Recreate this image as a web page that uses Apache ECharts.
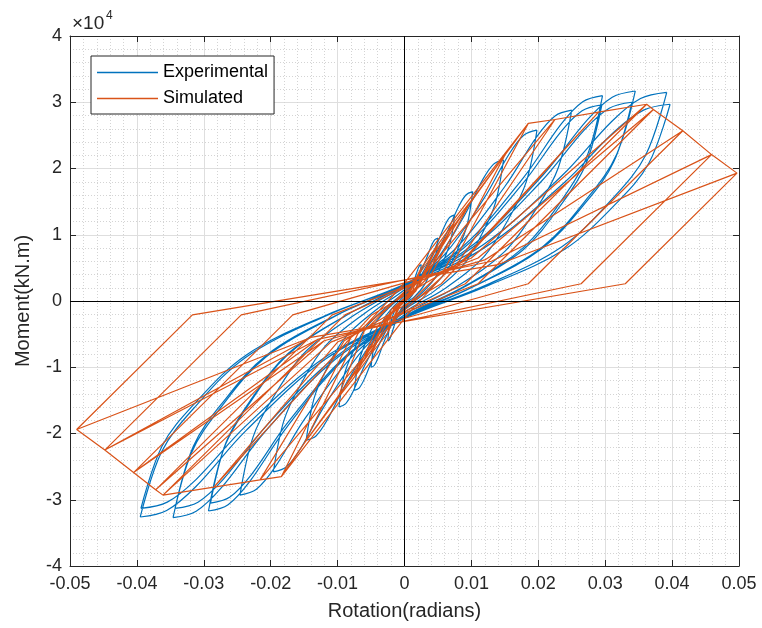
<!DOCTYPE html>
<html><head><meta charset="utf-8">
<script src="https://cdn.jsdelivr.net/npm/echarts@6/dist/echarts.min.js"></script>
<style>html,body{margin:0;padding:0;background:#fff}#c{width:762px;height:628px}</style>
</head><body><div id="c"></div>
<script>
// ---- Experimental loops: [rotation (rad), moment (kN.m)] ----
// each loop: lower branch to positive tip (5 pts), upper branch back through the pinch to negative tip (10 pts), lower branch back to pinch (5 pts)
const expStart = [[0,0]];
const expLoop1 = [[0.00075,385],[0.0015,1430],[0.002,2750],[0.0023,3850],[0.0025,5500],[0.00225,5335],[0.00198,4730],[0.0015,3300],[0.00075,1485],[0,440],[-0.00075,-420],[-0.0015,-1560],[-0.002,-3000],[-0.0023,-4200],[-0.0025,-6000],[-0.00225,-5820],[-0.00198,-5160],[-0.0015,-3600],[-0.00075,-1620],[0,-480]];
const expLoop2 = [[0.0015,665],[0.003,2470],[0.004,4750],[0.0046,6650],[0.005,9500],[0.0045,9215],[0.00395,8170],[0.003,5700],[0.0015,2565],[0,760],[-0.0015,-700],[-0.003,-2600],[-0.004,-5000],[-0.0046,-7000],[-0.005,-10000],[-0.0045,-9700],[-0.00395,-8600],[-0.003,-6000],[-0.0015,-2700],[0,-800]];
const expLoop3 = [[0.00225,910],[0.0045,3380],[0.006,6500],[0.0069,9100],[0.0075,13000],[0.00675,12610],[0.00593,11180],[0.0045,7800],[0.00225,3510],[0,1040],[-0.00225,-945],[-0.0045,-3510],[-0.006,-6750],[-0.0069,-9450],[-0.0075,-13500],[-0.00675,-13100],[-0.00593,-11610],[-0.0045,-8100],[-0.00225,-3645],[0,-1080]];
const expLoop4 = [[0.00306,1155],[0.00612,4290],[0.00816,8250],[0.00938,11550],[0.0102,16500],[0.00918,16005],[0.00806,14190],[0.00612,9900],[0.00306,4455],[0,1320],[-0.00294,-1120],[-0.00588,-4160],[-0.00784,-8000],[-0.00902,-11200],[-0.0098,-16000],[-0.00882,-15520],[-0.00774,-13760],[-0.00588,-9600],[-0.00294,-4320],[0,-1280]];
const expLoop5 = [[0.00444,1491],[0.00888,5538],[0.01184,10650],[0.01362,14910],[0.0148,21300],[0.01332,20661],[0.01169,18318],[0.00888,12780],[0.00444,5751],[0,1704],[-0.00441,-1470],[-0.00882,-5460],[-0.01176,-10500],[-0.01352,-14700],[-0.0147,-21000],[-0.01323,-20370],[-0.01161,-18060],[-0.00882,-12600],[-0.00441,-5670],[0,-1680]];
const expLoop6 = [[0.00594,1806],[0.01188,6708],[0.01584,12900],[0.01822,18060],[0.0198,25800],[0.01782,25026],[0.01564,22188],[0.01188,15480],[0.00594,6966],[0,2064],[-0.00588,-1806],[-0.01176,-6708],[-0.01568,-12900],[-0.01803,-18060],[-0.0196,-25800],[-0.01764,-25026],[-0.01548,-22188],[-0.01176,-15480],[-0.00588,-6966],[0,-2064]];
const expLoop7 = [[0.0075,2016],[0.015,7488],[0.02,14400],[0.023,20160],[0.025,28800],[0.0225,27936],[0.01975,24768],[0.015,17280],[0.0075,7776],[0,2304],[-0.00738,-2051],[-0.01476,-7618],[-0.01968,-14650],[-0.02263,-20510],[-0.0246,-29300],[-0.02214,-28421],[-0.01943,-25198],[-0.01476,-17580],[-0.00738,-7911],[0,-2344]];
const expLoop8 = [[0.00888,2170],[0.01776,8060],[0.02368,15500],[0.02723,21700],[0.0296,31000],[0.02664,30070],[0.02338,26660],[0.01776,18600],[0.00888,8370],[0,2480],[-0.00879,-2219],[-0.01758,-8242],[-0.02344,-15850],[-0.02696,-22190],[-0.0293,-31700],[-0.02637,-30749],[-0.02315,-27262],[-0.01758,-19020],[-0.00879,-8559],[0,-2536]];
const expLoop9 = [[0.00885,2072],[0.0177,7696],[0.0236,14800],[0.02714,20720],[0.0295,29600],[0.02655,28712],[0.02331,25456],[0.0177,17760],[0.00885,7992],[0,2368],[-0.0087,-2135],[-0.0174,-7930],[-0.0232,-15250],[-0.02668,-21350],[-0.029,-30500],[-0.0261,-29585],[-0.02291,-26230],[-0.0174,-18300],[-0.0087,-8235],[0,-2440]];
const expLoop10 = [[0.01035,2219],[0.0207,8242],[0.0276,15850],[0.03174,22190],[0.0345,31700],[0.03105,30749],[0.02726,27262],[0.0207,19020],[0.01035,8559],[0,2536],[-0.01038,-2289],[-0.02076,-8502],[-0.02768,-16350],[-0.03183,-22890],[-0.0346,-32700],[-0.03114,-31719],[-0.02733,-28122],[-0.02076,-19620],[-0.01038,-8829],[0,-2616]];
const expLoop11 = [[0.0102,2100],[0.0204,7800],[0.0272,15000],[0.03128,21000],[0.034,30000],[0.0306,29100],[0.02686,25800],[0.0204,18000],[0.0102,8100],[0,2400],[-0.01029,-2191],[-0.02058,-8138],[-0.02744,-15650],[-0.03156,-21910],[-0.0343,-31300],[-0.03087,-30361],[-0.0271,-26918],[-0.02058,-18780],[-0.01029,-8451],[0,-2504]];
const expLoop12 = [[0.01176,2205],[0.02352,8190],[0.03136,15750],[0.03606,22050],[0.0392,31500],[0.03528,30555],[0.03097,27090],[0.02352,18900],[0.01176,8505],[0,2520],[-0.01185,-2282],[-0.0237,-8476],[-0.0316,-16300],[-0.03634,-22820],[-0.0395,-32600],[-0.03555,-31622],[-0.03121,-28036],[-0.0237,-19560],[-0.01185,-8802],[0,-2608]];
const expLoop13 = [[0.01191,2079],[0.02382,7722],[0.03176,14850],[0.03652,20790],[0.0397,29700],[0.03573,28809],[0.03136,25542],[0.02382,17820],[0.01191,8019],[0,2376],[-0.01182,-2191],[-0.02364,-8138],[-0.03152,-15650],[-0.03625,-21910],[-0.0394,-31300],[-0.03546,-30361],[-0.03113,-26918],[-0.02364,-18780],[-0.01182,-8451],[0,-2504]];

// ---- Simulated cycles: [rotation (rad), moment (kN.m)] ----
const simCycle1 = [[0,0],[0.0025,5000],[0.0006,800],[-0.001,-1000],[-0.0025,-4800],[-0.0006,-600],[0.001,1000]];
const simCycle2 = [[0.0025,5000],[0.005,8500],[0.00135,1200],[-0.002,-2000],[-0.0025,-4800],[-0.005,-8000],[-0.0015,-1000],[0.002,2000]];
const simCycle3 = [[0.005,8500],[0.0075,12000],[0.0017,1500],[-0.003,-3000],[-0.005,-8000],[-0.0075,-11500],[-0.0019,-1200],[0.003,3000]];
const simCycle4 = [[0.0075,12000],[0.010,15200],[0.0017,2000],[-0.004,-3800],[-0.0075,-11500],[-0.010,-14700],[-0.0019,-1700],[0.004,4000]];
const simCycle5 = [[0.010,15200],[0.015,22000],[0.0009,2300],[-0.006,-4500],[-0.010,-14700],[-0.015,-21500],[-0.001,-1900],[0.006,4800]];
const simCycle6 = [[0.015,22000],[0.0185,26800],[-0.0001,2600],[-0.007,-5000],[-0.015,-21500],[-0.0184,-26500],[0.0004,-2100],[0.007,5200]];
const simCycle7 = [[0.0185,26800],[0.0225,27400],[0.0018,2600],[-0.008,-5500],[-0.0184,-26500],[-0.0216,-27000],[-0.0008,-2100],[0.008,5800]];
const simCycle8 = [[0.0225,27400],[0.029,28500],[0.0055,2600],[-0.009,-6000],[-0.0216,-27000],[-0.0285,-28100],[-0.0049,-2100],[0.009,6200]];
const simCycle9 = [[0.029,28500],[0.0362,29700],[0.0091,2600],[-0.010,-6200],[-0.0285,-28100],[-0.0361,-29300],[-0.0089,-2100],[0.010,6500]];
const simCycle10 = [[0.0362,29700],[0.0372,28900],[0.011,2600],[-0.011,-6200],[-0.0361,-29300],[-0.0372,-28500],[-0.0108,-2100],[0.011,6500]];
const simCycle11 = [[0.0372,28900],[0.0416,25700],[0.0185,2600],[-0.012,-6000],[-0.0372,-28500],[-0.0405,-25900],[-0.0167,-2100],[0.012,6200],
                    [0.0416,25700],[0.0185,2600],[-0.012,-6000],[-0.0405,-25900],[-0.0167,-2100],[0.012,6200]];
const simCycle12 = [[0.0416,25700],[0.0459,22100],[0.0264,2600],[-0.013,-5800],[-0.0405,-25900],[-0.0448,-22500],[-0.0244,-2100],[0.013,6000],
                    [0.0459,22100],[0.0264,2600],[-0.013,-5800],[-0.0448,-22500],[-0.0244,-2100],[0.013,6000]];
const simCycle13 = [[0.0459,22100],[0.0497,19300],[0.0330,2600],[-0.014,-5500],[-0.0448,-22500],[-0.049,-19400],[-0.0317,-2100],[0.014,5500],
                    [0.0497,19300],[0.0330,2600],[-0.014,-5500],[-0.049,-19400],[-0.0317,-2100],[0.014,5500]];

const xTickValues = [-0.05,-0.04,-0.03,-0.02,-0.01,0,0.01,0.02,0.03,0.04,0.05];
const yTickValues = [-40000,-30000,-20000,-10000,0,10000,20000,30000,40000];

const expLoops = [expLoop1, expLoop2, expLoop3, expLoop4, expLoop5, expLoop6, expLoop7,
  expLoop8, expLoop9, expLoop10, expLoop11, expLoop12, expLoop13];
// Break the path at each loop tip (tip repeated after a gap) so smoothing keeps the tips sharp.
const GAP = ['-', '-'];
const experimental = expStart.slice();
expLoops.forEach(loop => {
  const tipPos = loop[4], tipNeg = loop[14];
  experimental.push(...loop.slice(0, 5), GAP, tipPos, ...loop.slice(5, 15), GAP, tipNeg, ...loop.slice(15));
});
const simulated = [].concat(simCycle1, simCycle2, simCycle3, simCycle4, simCycle5, simCycle6, simCycle7,
  simCycle8, simCycle9, simCycle10, simCycle11, simCycle12, simCycle13);

const FONT = '"Liberation Sans", Arial, Helvetica, sans-serif';
const AX = '#262626';
const chart = echarts.init(document.getElementById('c'), null, {renderer: 'canvas'});

const xMin = xTickValues[0], xMax = xTickValues[xTickValues.length - 1];
const yMin = yTickValues[0], yMax = yTickValues[yTickValues.length - 1];

function boxAxis(pos, isX) {
  return {
    type: 'value', position: pos,
    min: isX ? xMin : yMin, max: isX ? xMax : yMax,
    interval: isX ? 0.01 : 10000,
    axisLine: {show: true, onZero: false, lineStyle: {color: AX, width: 1}},
    axisTick: {show: true, inside: true, length: 6, lineStyle: {color: AX, width: 1}},
    axisLabel: {show: false},
    splitLine: {show: false}
  };
}

chart.setOption({
  animation: false,
  backgroundColor: '#fff',
  grid: {left: 70, right: 23, top: 36, bottom: 62},
  legend: {
    data: ['Experimental', 'Simulated'],
    orient: 'vertical', left: 91, top: 56,
    icon: 'rect',
    itemWidth: 61, itemHeight: 1.3, itemGap: 7,
    padding: [7, 6, 6, 6],
    backgroundColor: '#fff', borderColor: AX, borderWidth: 1, borderRadius: 0,
    textStyle: {fontSize: 18, color: '#000', fontFamily: FONT, lineHeight: 19}
  },
  graphic: [
    {type: 'text', left: 72, top: 14, style: {text: '×10', fontSize: 19, fill: AX, fontFamily: FONT}},
    {type: 'text', left: 106, top: 10, style: {text: '4', fontSize: 12, fill: AX, fontFamily: FONT}}
  ],
  xAxis: [{
    type: 'value', position: 'bottom', min: xMin, max: xMax, interval: 0.01,
    axisLine: {show: true, onZero: false, lineStyle: {color: AX, width: 1}},
    axisTick: {show: true, inside: true, length: 6, lineStyle: {color: AX, width: 1}},
    axisLabel: {color: AX, fontSize: 18, fontFamily: FONT, margin: 9,
      formatter: v => String(Math.round(v * 100) / 100)},
    splitLine: {show: true, lineStyle: {color: '#dedede', width: 1}},
    minorTick: {show: false, splitNumber: 5},
    minorSplitLine: {show: true, lineStyle: {color: '#d4d4d4', width: 1, type: [1, 2]}},
    name: 'Rotation(radians)', nameLocation: 'middle', nameGap: 35,
    nameTextStyle: {fontSize: 20, color: AX, fontFamily: FONT}
  }, boxAxis('top', true)],
  yAxis: [{
    type: 'value', position: 'left', min: yMin, max: yMax, interval: 10000,
    axisLine: {show: true, onZero: false, lineStyle: {color: AX, width: 1}},
    axisTick: {show: true, inside: true, length: 6, lineStyle: {color: AX, width: 1}},
    axisLabel: {color: AX, fontSize: 18, fontFamily: FONT, margin: 8,
      formatter: v => String(Math.round(v / 10000))},
    splitLine: {show: true, lineStyle: {color: '#dedede', width: 1}},
    minorTick: {show: false, splitNumber: 5},
    minorSplitLine: {show: true, lineStyle: {color: '#d4d4d4', width: 1, type: [1, 2]}},
    name: 'Moment(kN.m)', nameLocation: 'middle', nameGap: 37, nameRotate: 90,
    nameTextStyle: {fontSize: 20, color: AX, fontFamily: FONT}
  }, boxAxis('right', false)],
  series: [
    {
      name: 'Experimental', type: 'line', xAxisIndex: 0, yAxisIndex: 0,
      data: experimental, showSymbol: false, symbol: 'none', connectNulls: false,
      smooth: 0.35,
      lineStyle: {color: '#0072BD', width: 1.2}, itemStyle: {color: '#0072BD'}, z: 2
    },
    {
      name: 'Simulated', type: 'line', xAxisIndex: 0, yAxisIndex: 0,
      data: simulated, showSymbol: false, symbol: 'none',
      lineStyle: {color: '#D95319', width: 1.2}, itemStyle: {color: '#D95319'}, z: 3
    },
    {
      name: 'zero', type: 'line', xAxisIndex: 0, yAxisIndex: 0, data: [], z: 4,
      markLine: {silent: true, symbol: 'none', label: {show: false}, animation: false,
        lineStyle: {color: '#000', width: 1, type: 'solid'},
        data: [{xAxis: 0}, {yAxis: 0}]}
    }
  ]
});
</script>
</body></html>
